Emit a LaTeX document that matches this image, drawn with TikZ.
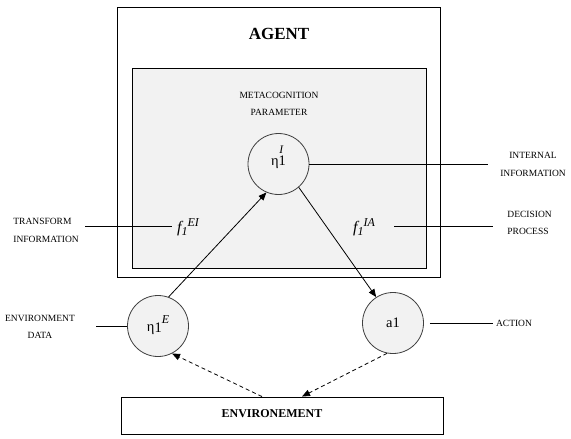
\documentclass[tikz,border=0pt]{standalone}
\usepackage{fontspec}
\setmainfont{Liberation Serif}
\usetikzlibrary{arrows.meta,positioning,calc}
\tikzstyle{arrow} = [-{Triangle[length=8pt,width=6.5pt]}, line width=0.8pt]
\tikzstyle{dasharrow} = [arrow, dash pattern=on 4pt off 3pt]
\tikzstyle{state} = [circle, draw=black!75, fill=black!5, minimum size=61pt, inner sep=0pt, font=\fontsize{14.5}{14.5}\selectfont]
\tikzstyle{tag} = [font=\fontsize{9.5}{17.5}\selectfont, inner sep=0pt]
\tikzstyle{fun} = [font=\fontsize{16}{16}\selectfont\itshape, inner sep=0pt]
\tikzstyle{panel} = [draw, line width=0.9pt, inner sep=0pt]
% raised and lowered indices, and a text of no height set on the node centre
\newcommand{\supr}[2]{\raisebox{#1}{\fontsize{12}{12}\selectfont\itshape #2}}
\newcommand{\subr}[1]{\raisebox{-3pt}{\fontsize{12}{12}\selectfont\itshape #1}}
\newcommand{\nohgt}[2]{\raisebox{#1}[0pt][0pt]{#2}}

\begin{document}
\begin{tikzpicture}[x=1pt,y=-1pt, line width=0.8pt]
    \useasboundingbox (0,0) rectangle (571,439);
    % agent and metacognition boxes
    \node[panel, minimum width=323pt, minimum height=270pt] (agent) at (278.5,142) {};
    \node[font=\fontsize{17}{17}\selectfont\bfseries] (agenttitle) at (279,34) {AGENT};
    \node[panel, fill=black!5, minimum width=294pt, minimum height=200pt] (meta) at (279,168) {};
    \node[tag, align=center] (metatitle) at (279,104) {METACOGNITION\\PARAMETER};
    % states
    \node[state] (etaI) at (278.5,164) {\nohgt{-1.5pt}{η\makebox[0pt][l]{\hspace{0.8pt}\raisebox{12pt}{\fontsize{11.5}{11.5}\selectfont\itshape I}}1}};
    \node[state] (etaE) at (158,326) {\nohgt{-5pt}{η\raisebox{-1pt}{1}\supr{8pt}{E}}};
    \node[state] (act) at (393,323) {\nohgt{-4.5pt}{a1}};
    \node[fun] (fEI) at (188,226) {\nohgt{-6pt}{f\subr{1}\supr{6pt}{EI}}};
    \node[fun] (fIA) at (364,226) {\nohgt{-6pt}{f\subr{1}\supr{6pt}{IA}}};
    % environment
    \node[panel, minimum width=322pt, minimum height=37pt] (env) at (282,415.5) {};
    \node[font=\fontsize{12}{12}\selectfont\bfseries] (envtitle) at (272,414) {ENVIRONEMENT};
    % side labels
    \node[tag, align=left, anchor=west] (trans) at (13,230.5) {TRANSFORM\\INFORMATION};
    \node[tag, align=center] (envdata) at (40,327) {ENVIRONMENT\\DATA};
    \node[tag, align=center] (intinfo) at (533,164.5) {INTERNAL\\INFORMATION};
    \node[tag, align=left, anchor=west] (decide) at (507,223) {DECISION\\PROCESS};
    \node[tag] (action) at (514,323) {ACTION};
    % label lines
    \draw[shorten <=5pt, shorten >=6pt] (fEI.west) -- (fEI.west -| trans.east);
    \draw[shorten >=21pt] (etaE.west) -- (etaE.west -| envdata.east);
    \draw[shorten >=12pt] (etaI.east) -- (etaI.east -| intinfo.west);
    \draw[shorten <=19pt, shorten >=14pt] (fIA.east) -- (fIA.east -| decide.west);
    \draw[shorten <=6pt, shorten >=3pt] (act.east) -- (act.east -| action.west);
    % flows
    \draw[arrow] (etaE.70) -- (etaI.247);
    \draw[arrow] (etaI.311) -- (act.123);
    \draw[dasharrow] ([xshift=-20pt]env.north) -- (etaE.297);
    \draw[dasharrow] (act.259) -- ([xshift=20pt]env.north);
\end{tikzpicture}
\end{document}
